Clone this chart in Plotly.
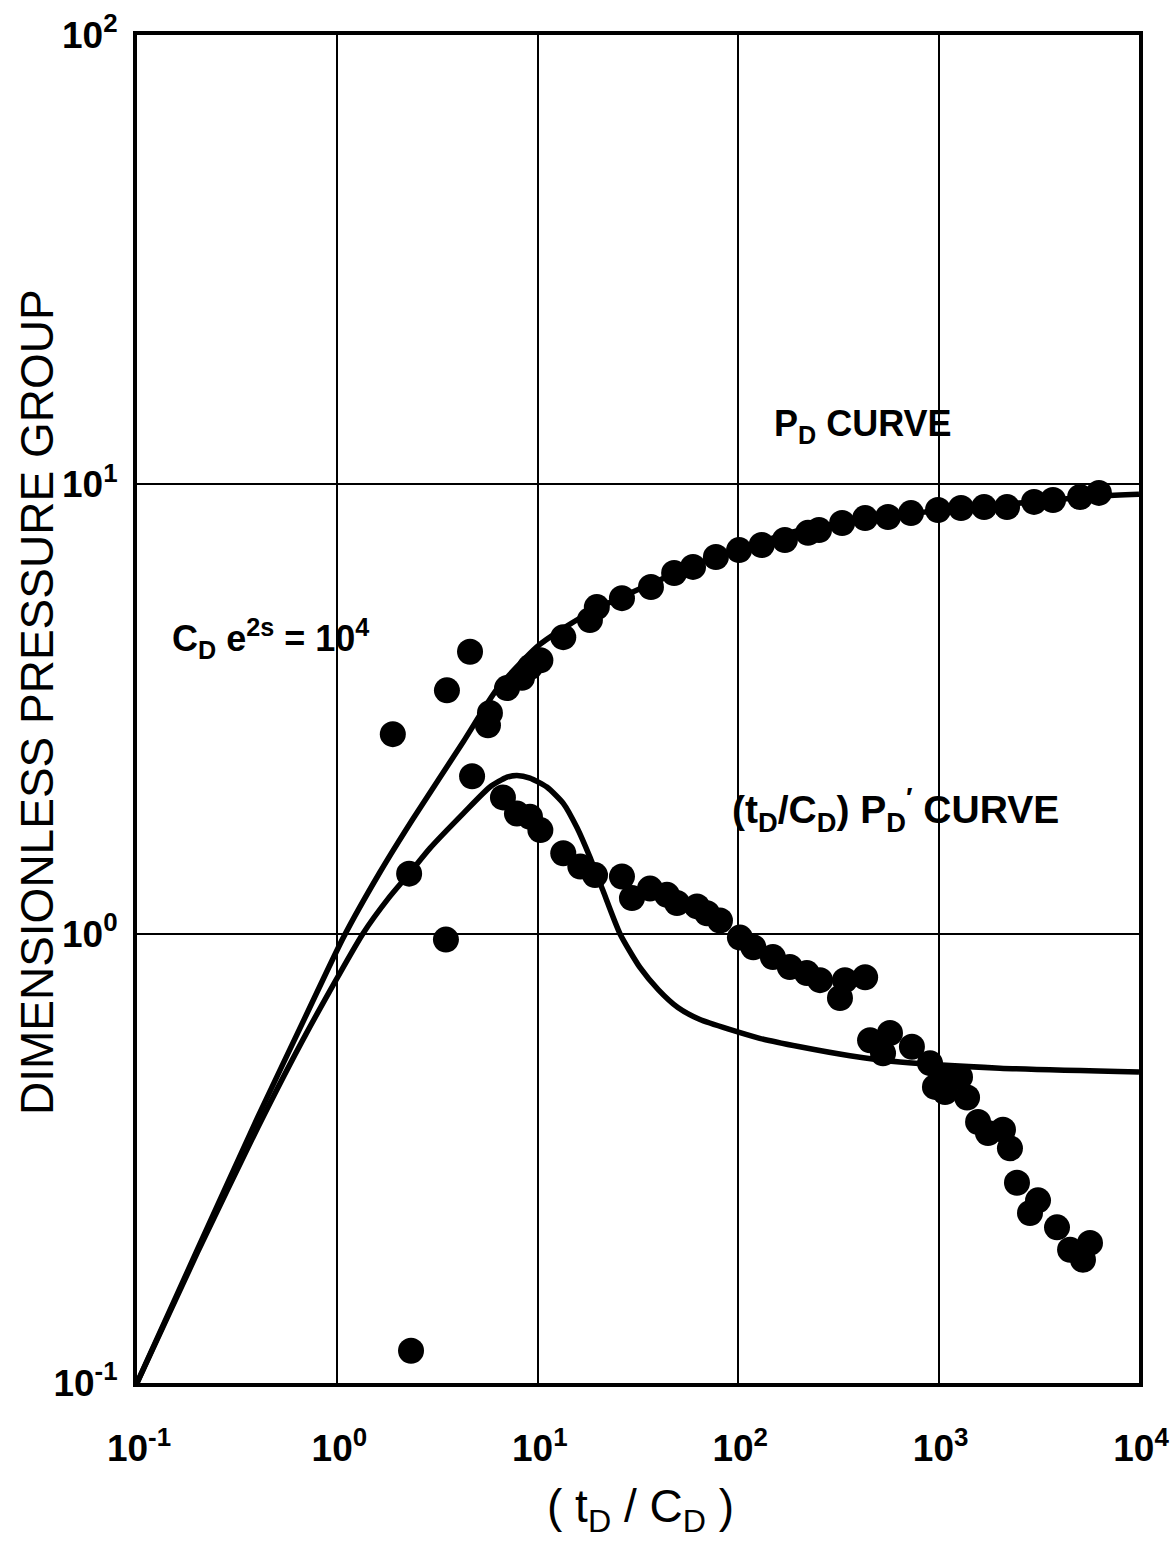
import plotly.graph_objects as go

# ---------------- data ----------------
# P_D type-curve (solid line)
pd_curve_t = [0.1, 0.2, 0.4, 0.7, 1.07, 1.63, 2.38, 4.24, 6.25, 9.9, 13.4, 20.4, 64.4, 203, 641, 2023, 6383, 10000]
pd_curve_v = [0.1, 0.198, 0.39, 0.66, 0.98, 1.37, 1.80, 2.67, 3.50, 4.35, 4.78, 5.33, 6.68, 7.91, 8.55, 9.0, 9.42, 9.51]

# (tD/CD) PD' derivative type-curve (solid line)
dpd_curve_t = [0.1, 0.2, 0.4, 0.7, 1.34, 1.8, 2.28, 2.9, 4.24, 5.77, 7.02, 7.87, 9.14, 11.1, 13.4, 15.7, 18.2,
               21.1, 25.7, 32.4, 40, 50, 64, 128, 203, 361, 641, 2023, 10000]
dpd_curve_v = [0.1, 0.195, 0.37, 0.6, 1.0, 1.2, 1.36, 1.55, 1.85, 2.12, 2.23, 2.25, 2.22, 2.12, 1.95, 1.72, 1.48,
               1.25, 1.0, 0.84, 0.75, 0.685, 0.645, 0.585, 0.56, 0.535, 0.518, 0.502, 0.492]

# measured pressure data (dots)
pd_pts_t = [1.89, 3.52, 4.59, 5.64, 5.77, 7.02, 8.34, 9.14, 10.3, 13.4, 18.2, 19.7, 26.3, 36.7, 47.9,
            59.5, 77.4, 101, 131, 171, 223, 253, 330, 430, 559, 728, 993, 1294, 1687, 2195, 2993,
            3724, 5083, 6310]
pd_pts_v = [2.78, 3.48, 4.24, 2.91, 3.10, 3.52, 3.71, 3.92, 4.06, 4.57, 4.99, 5.33, 5.58, 5.91, 6.35,
            6.55, 6.89, 7.14, 7.33, 7.52, 7.80, 7.91, 8.20, 8.41, 8.46, 8.63, 8.77, 8.86, 8.90, 8.90, 9.14,
            9.23, 9.37, 9.57]

# measured derivative data (dots)
dpd_pts_t = [2.33, 2.28, 3.48, 4.70, 6.70, 7.87, 9.14, 10.3, 13.4, 16.3, 19.3, 26.3, 29.5, 36.3, 44.1,
             49.5, 62.3, 69.9, 81.1, 102, 119, 149, 181, 220, 256, 322, 341, 430,
             455, 572, 528, 736, 906, 1102, 1279, 959, 1077, 1387, 1574, 1764, 2095, 2270, 2461,
             3134, 2858, 3898, 4529, 5694, 5253]
dpd_pts_v = [0.118, 1.36, 0.97, 2.24, 2.01, 1.85, 1.82, 1.70, 1.51, 1.41, 1.35, 1.34, 1.20, 1.26, 1.22,
             1.17, 1.15, 1.11, 1.07, 0.98, 0.933, 0.887, 0.843, 0.817, 0.788, 0.719, 0.788, 0.800,
             0.579, 0.601, 0.542, 0.560, 0.515, 0.480, 0.480, 0.456, 0.444, 0.432, 0.381, 0.360, 0.366,
             0.333, 0.279, 0.255, 0.239, 0.222, 0.198, 0.205, 0.188]

x_tick_vals = [0.1, 1, 10, 100, 1000, 10000]
x_tick_text = ["10<sup>-1</sup>", "10<sup>0</sup>", "10<sup>1</sup>", "10<sup>2</sup>", "10<sup>3</sup>", "10<sup>4</sup>"]
y_tick_vals = [0.1, 1, 10, 100]
y_tick_text = ["10<sup>-1</sup>", "10<sup>0</sup>", "10<sup>1</sup>", "10<sup>2</sup>"]

FONT = "Liberation Sans, Arial, sans-serif"

fig = go.Figure()

fig.add_trace(go.Scatter(x=pd_curve_t, y=pd_curve_v, mode="lines",
                         line=dict(color="black", width=5.5, shape="spline", smoothing=0.6),
                         showlegend=False, hoverinfo="skip"))
fig.add_trace(go.Scatter(x=dpd_curve_t, y=dpd_curve_v, mode="lines",
                         line=dict(color="black", width=5.5, shape="spline", smoothing=0.6),
                         showlegend=False, hoverinfo="skip"))
fig.add_trace(go.Scatter(x=pd_pts_t, y=pd_pts_v, mode="markers",
                         marker=dict(color="black", size=26, line=dict(width=0)),
                         showlegend=False))
fig.add_trace(go.Scatter(x=dpd_pts_t, y=dpd_pts_v, mode="markers",
                         marker=dict(color="black", size=26, line=dict(width=0)),
                         showlegend=False))

axis_common = dict(
    type="log", showline=True, mirror=True, linecolor="black", linewidth=4,
    showgrid=True, gridcolor="black", gridwidth=1.6, zeroline=False,
    ticks="", tickfont=dict(family=FONT, size=37, color="black", weight="bold"),
    ticklabeloverflow="allow", automargin=False,
)

fig.update_xaxes(range=[-1, 4], tickvals=x_tick_vals, ticktext=x_tick_text,
                 ticklabelstandoff=30, ticklabelshift=2, **axis_common)
fig.update_yaxes(range=[-1, 2], tickvals=y_tick_vals, ticktext=y_tick_text,
                 ticklabelstandoff=8, **axis_common)

annotations = [
    dict(text="DIMENSIONLESS PRESSURE GROUP", xref="paper", yref="paper", x=-0.1, y=0.505,
         textangle=-90, showarrow=False, xanchor="center", yanchor="middle",
         font=dict(family=FONT, size=46, color="black")),
    dict(text="( t<sub>D</sub> / C<sub>D</sub> )", xref="paper", yref="paper", x=0.502, y=-0.094,
         showarrow=False, xanchor="center", yanchor="middle",
         font=dict(family=FONT, size=46, color="black")),
    dict(text="P<sub>D</sub> CURVE", xref="paper", yref="paper", x=0.634, y=0.71,
         showarrow=False, xanchor="left", yanchor="middle",
         font=dict(family=FONT, size=36, color="black", weight="bold")),
    dict(text="C<sub>D</sub> e<sup>2s</sup> = 10<sup>4</sup>", xref="paper", yref="paper", x=0.033, y=0.552,
         showarrow=False, xanchor="left", yanchor="middle",
         font=dict(family=FONT, size=36, color="black", weight="bold")),
    dict(text="(t<sub>D</sub>/C<sub>D</sub>) P<sub>D</sub><sup>′</sup> CURVE", xref="paper", yref="paper",
         x=0.592, y=0.425, showarrow=False, xanchor="left", yanchor="middle",
         font=dict(family=FONT, size=39, color="black", weight="bold")),
]

fig.update_layout(
    width=1174, height=1545,
    margin=dict(l=137, r=35, t=35, b=162, autoexpand=False),
    paper_bgcolor="white", plot_bgcolor="white",
    annotations=annotations,
    showlegend=False,
)

fig.write_html("out.html")
